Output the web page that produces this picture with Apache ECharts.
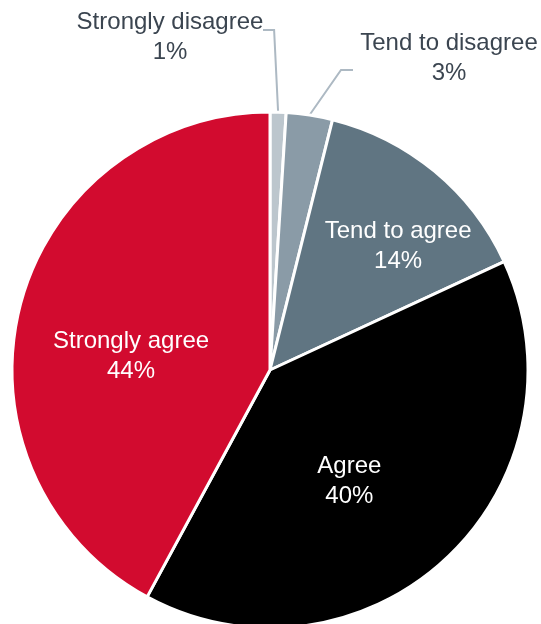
<!DOCTYPE html>
<html>
<head>
<meta charset="utf-8">
<script src="https://cdn.jsdelivr.net/npm/echarts@6/dist/echarts.min.js"></script>
<style>
  html, body { margin: 0; padding: 0; background: #fff; }
  #chart { width: 541px; height: 624px; }
</style>
</head>
<body>
<div id="chart"></div>
<script>
const CATEGORIES = ['Strongly disagree', 'Tend to disagree', 'Tend to agree', 'Agree', 'Strongly agree']
const VALUES = [1.0, 2.9, 14.2, 39.8, 42.1]
// percentages as printed on the chart
const PCT_LABELS = ['1%', '3%', '14%', '40%', '44%']
const COLORS = ['#BCC6CD', '#8A9BA7', '#607582', '#000000', '#D20B2F']
const OUTSIDE = [true, true, false, false, false]

const chart = echarts.init(document.getElementById('chart'))

const data = CATEGORIES.map((name, i) => ({
  name,
  value: VALUES[i],
  itemStyle: { color: COLORS[i] },
  label: OUTSIDE[i]
    ? { position: 'outside', color: '#3B4550' }
    : { position: 'inside', color: '#FFFFFF' },
  labelLine: { show: OUTSIDE[i] }
}))

chart.setOption({
  animation: false,
  series: [
    {
      type: 'pie',
      center: [270, 370],
      radius: 258,
      startAngle: 90,
      clockwise: true,
      avoidLabelOverlap: false,
      itemStyle: { borderColor: '#FFFFFF', borderWidth: 3 },
      label: {
        show: true,
        formatter: (p) => p.name + '\n' + PCT_LABELS[p.dataIndex],
        fontFamily: '"Liberation Sans", Arial, sans-serif',
        fontSize: 24,
        lineHeight: 30,
        align: 'center',
        overflow: 'none'
      },
      labelLine: {
        lineStyle: { color: '#ADB9C3', width: 2 },
        length: 20,
        length2: 10
      },
      labelLayout: (params) => {
        const p0 = params.labelLinePoints ? params.labelLinePoints[0] : null
        if (params.dataIndex === 0) {
          return {
            x: 170, y: 37, align: 'center', verticalAlign: 'middle',
            labelLinePoints: p0 ? [p0, [p0[0] - 4, 30], [263, 30]] : undefined
          }
        }
        if (params.dataIndex === 1) {
          return {
            x: 449, y: 58, align: 'center', verticalAlign: 'middle',
            labelLinePoints: p0 ? [p0, [341, 70], [353, 70]] : undefined
          }
        }
        if (params.dataIndex === 2) return { dx: 44, dy: -22 }
        if (params.dataIndex === 3) return { dx: -11, dy: 15 }
        if (params.dataIndex === 4) return { dx: -11, dy: 19 }
        return {}
      },
      data
    }
  ]
})
</script>
</body>
</html>
